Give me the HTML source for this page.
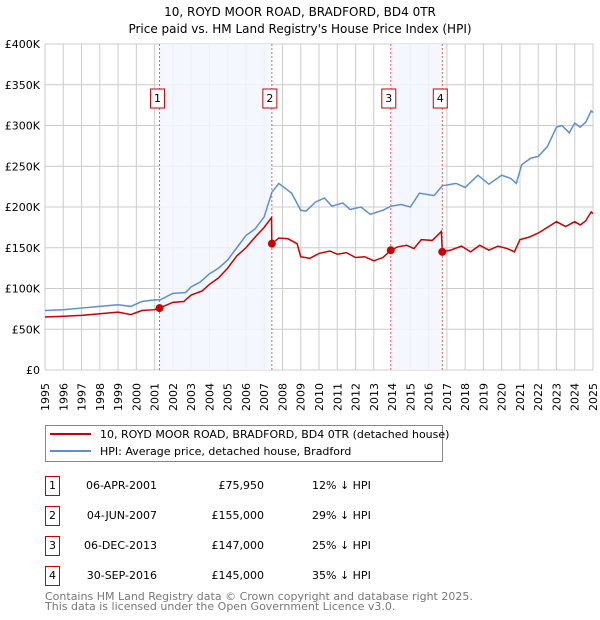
<!DOCTYPE html>
<html><head><meta charset="utf-8"><style>
body{margin:0;background:#fff;font-family:"DejaVu Sans","Liberation Sans",sans-serif;}
svg{display:block}
</style></head><body>
<svg id="c" width="600" height="620" xmlns="http://www.w3.org/2000/svg" font-family="DejaVu Sans, Liberation Sans, sans-serif">
<text x="300" y="16" text-anchor="middle" font-size="12">10, ROYD MOOR ROAD, BRADFORD, BD4 0TR</text>
<text x="300" y="33" text-anchor="middle" font-size="12">Price paid vs. HM Land Registry's House Price Index (HPI)</text>
<g id="grid"></g>
<g id="shade"></g>
<g id="series"></g>
<g id="axes"></g>
<g>
<rect x="45.5" y="425.5" width="397" height="36" fill="#fff" stroke="#888"/>
<line x1="50" y1="434" x2="91" y2="434" stroke="#cc0000" stroke-width="2"/>
<text x="100" y="438" font-size="11">10, ROYD MOOR ROAD, BRADFORD, BD4 0TR (detached house)</text>
<line x1="50" y1="451" x2="91" y2="451" stroke="#5b8fd4" stroke-width="2"/>
<text x="100" y="455" font-size="11">HPI: Average price, detached house, Bradford</text>
</g>
<g id="table" font-size="11"></g>
<text x="45" y="600" font-size="11" fill="#777">Contains HM Land Registry data © Crown copyright and database right 2025.</text>
<text x="45" y="610" font-size="11" fill="#777">This data is licensed under the Open Government Licence v3.0.</text>
</svg>
<script>
const yTicks=[0,50000,100000,150000,200000,250000,300000,350000,400000];
const yTickLabels=["£0","£50K","£100K","£150K","£200K","£250K","£300K","£350K","£400K"];
const years=[1995,1996,1997,1998,1999,2000,2001,2002,2003,2004,2005,2006,2007,2008,2009,2010,2011,2012,2013,2014,2015,2016,2017,2018,2019,2020,2021,2022,2023,2024,2025];
const hpiT=[1995,1996,1997,1998,1999,1999.7,2000.3,2001,2001.3,2002,2002.7,2003,2003.5,2004,2004.5,2005,2005.5,2006,2006.5,2007,2007.42,2007.8,2008.5,2009,2009.3,2009.8,2010.3,2010.7,2011.3,2011.7,2012.3,2012.8,2013.5,2013.93,2014.5,2015,2015.5,2016.3,2016.75,2017.5,2018,2018.7,2019.3,2020,2020.5,2020.8,2021.1,2021.6,2022,2022.5,2023,2023.3,2023.7,2024,2024.3,2024.6,2024.9,2025];
const hpiV=[73,74,76,78,80,78,84,86,86,94,95,102,108,118,125,135,150,165,173,188,218,229,217,196,195,206,211,201,205,197,200,191,196,201,203,200,217,214,226,229,224,239,228,239,235,229,252,260,262,274,298,300,291,303,298,304,318,316];
const ppT=[1995,1996,1997,1998,1999,1999.7,2000.3,2001,2001.27,2002,2002.6,2003,2003.6,2004,2004.5,2005,2005.5,2006,2006.5,2007,2007.4,2007.42,2007.8,2008.3,2008.8,2009,2009.5,2010,2010.6,2011,2011.5,2012,2012.5,2013,2013.5,2013.93,2014.3,2014.8,2015.2,2015.6,2016.2,2016.7,2016.75,2017.2,2017.8,2018.3,2018.8,2019.3,2019.8,2020.3,2020.7,2021,2021.5,2022,2022.5,2023,2023.5,2024,2024.3,2024.6,2024.9,2025];
const ppV=[65,66,67,69,71,68,73,74,76,83,84,92,97,105,113,125,140,150,163,175,187,155,162,161,155,139,137,143,146,142,144,138,139,134,138,147,151,153,149,160,159,170,145,147,152,145,153,147,152,149,145,160,163,168,175,182,176,182,178,183,194,192];
const saleT=[2001.27,2007.42,2013.93,2016.75];
const saleV=[75950,155000,147000,145000];
const saleLabels=["1","2","3","4"];
const saleDates=["06-APR-2001","04-JUN-2007","06-DEC-2013","30-SEP-2016"];
const salePrices=["£75,950","£155,000","£147,000","£145,000"];
const salePct=["12% ↓ HPI","29% ↓ HPI","25% ↓ HPI","35% ↓ HPI"];
const L=45,R=593,T=44,B=370;
const X=t=>L+(t-1995)/30*(R-L);
const Y=v=>B-v/400000*(B-T);
const NS="http://www.w3.org/2000/svg";
function mk(p,tag,a){const e=document.createElementNS(NS,tag);for(const k in a)e.setAttribute(k,a[k]);p.appendChild(e);return e;}
const g=document.getElementById('grid'),sh=document.getElementById('shade'),se=document.getElementById('series'),ax=document.getElementById('axes'),tb=document.getElementById('table');
for(let i=0;i<2;i++){const r=mk(sh,'rect',{x:X(saleT[i*2]),y:T,width:X(saleT[i*2+1])-X(saleT[i*2]),height:B-T,fill:'#f2f6fd',opacity:0.85});

}
years.forEach(y=>{const l=mk(g,'line',{x1:X(y),x2:X(y),y1:T,y2:B,stroke:'#ccc','stroke-width':1});


const t=mk(ax,'text',{x:0,y:0,'font-size':11,'text-anchor':'end',transform:`translate(${X(y)+4},383) rotate(-90)`});t.textContent=y;

});
yTicks.forEach((v,i)=>{const l=mk(g,'line',{x1:L,x2:R,y1:Y(v),y2:Y(v),stroke:'#ccc','stroke-width':1});


const t=mk(ax,'text',{x:40,y:Y(v)+4,'font-size':11,'text-anchor':'end'});t.textContent=yTickLabels[i];

});
saleT.forEach(t=>{const l=mk(sh,'line',{x1:X(t),x2:X(t),y1:T,y2:B,stroke:'#e06060','stroke-width':1,'stroke-dasharray':'2,2'});

});
const hp=mk(se,'polyline',{points:hpiT.map((t,i)=>X(t)+','+Y(hpiV[i]*1000)).join(' '),fill:'none',stroke:'#5b8fd4','stroke-width':1.5});


const pp=mk(se,'polyline',{points:ppT.map((t,i)=>X(t)+','+Y(ppV[i]*1000)).join(' '),fill:'none',stroke:'#cc0000','stroke-width':1.5});


saleT.forEach((t,i)=>{const c=mk(se,'circle',{cx:X(t),cy:Y(saleV[i]),r:4,fill:'#cc0000'});


const bx=X(t)-9;const b=mk(se,'rect',{x:bx,y:89,width:14,height:19,fill:'#fff',stroke:'#cc0000'});


const tx=mk(se,'text',{x:bx+7,y:102,'font-size':11,'text-anchor':'middle'});tx.textContent=saleLabels[i];


const ry=476+i*30;
const rb=mk(tb,'rect',{x:45.5,y:ry+0.5,width:14,height:19,fill:'#fff',stroke:'#cc0000'});


const rl=mk(tb,'text',{x:52.5,y:ry+13,'text-anchor':'middle'});rl.textContent=saleLabels[i];


const d=mk(tb,'text',{x:157,y:ry+13,'text-anchor':'end'});d.textContent=saleDates[i];


const p=mk(tb,'text',{x:264,y:ry+13,'text-anchor':'end'});p.textContent=salePrices[i];


const q=mk(tb,'text',{x:312,y:ry+13});q.textContent=salePct[i];

});
</script>
</body></html>
